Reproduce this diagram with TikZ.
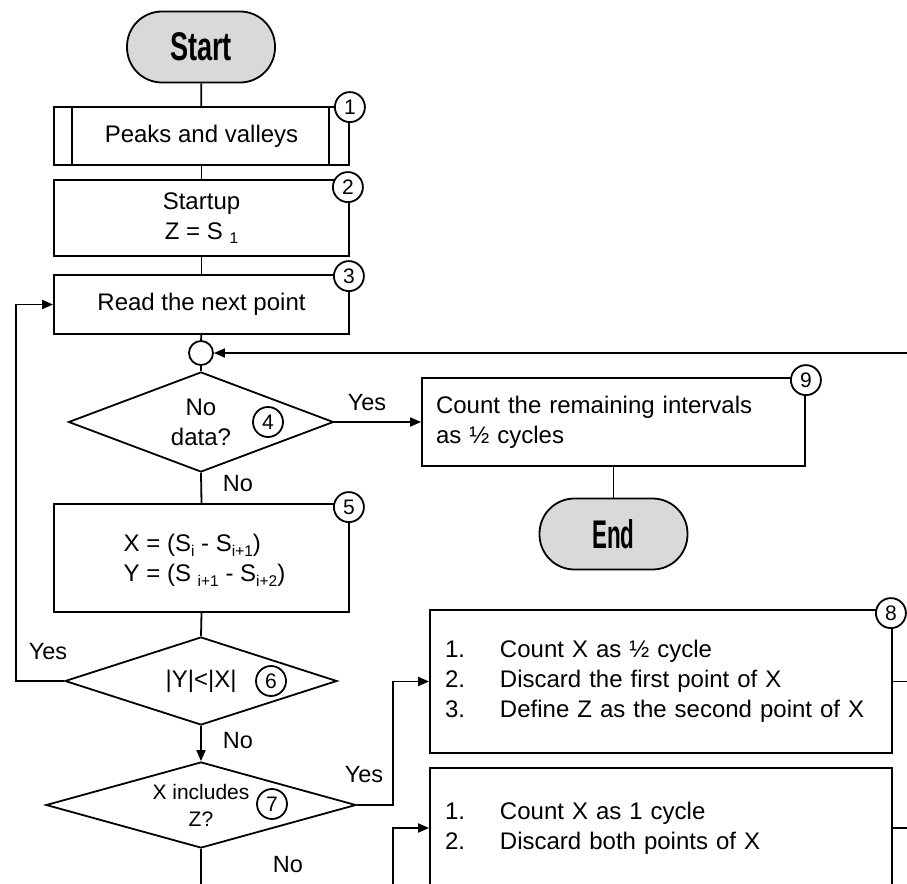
\documentclass[tikz,border=0pt]{standalone}
\usepackage{fontspec}
\setmainfont{Liberation Sans}
\usetikzlibrary{shapes.geometric,arrows.meta,calc}
\definecolor{termgray}{HTML}{D9D9D9}
\newcommand\lowsub[1]{\raisebox{-0.35ex}{\fontsize{15.5}{15.5}\selectfont #1}}
\newcommand\termtext[2]{\scalebox{#1}[1]{\fontsize{40}{40}\selectfont\bfseries #2}}

\begin{document}
\begin{tikzpicture}[x=1pt,y=-1pt,
  every node/.style={font=\fontsize{24}{30}\selectfont},
  line/.style={line width=1.8pt, draw=black},
  arr/.style={line, -{Triangle[length=11pt,width=9pt]}},
  box/.style={line, rectangle, inner sep=0pt, minimum width=295pt},
  term/.style={line, rectangle, rounded corners=35pt, fill=termgray,
    minimum width=148pt, minimum height=71pt, inner sep=0pt},
  dec/.style={line, diamond, inner sep=0pt, aspect=2.6, align=center},
  num/.style={line, circle, fill=white, inner sep=0pt, minimum size=30pt,
    font=\fontsize{21}{21}\selectfont},
  lbl/.style={inner sep=0pt, font=\fontsize{23.5}{23.5}\selectfont},
]
\useasboundingbox (0,0) rectangle (907,883);
\clip (0,0) rectangle (907,883);

% main column
\node[term] (start) at (201,47) {\termtext{0.68}{Start}};
\node[box, minimum height=58pt] (pv) at (201.5,136) {Peaks and valleys};
\draw[line] ([xshift=19pt]pv.north west) -- ([xshift=19pt]pv.south west);
\draw[line] ([xshift=-21pt]pv.north east) -- ([xshift=-21pt]pv.south east);
\node[box, minimum height=76pt, align=center] (su) at (201.5,218) {Startup\\Z = S \lowsub{1}};
\node[box, minimum height=59pt] (rd) at (201.5,304.5) {Read the next point};
\node[line, circle, minimum size=24pt, inner sep=0pt] (jn) at (201,353) {};
\node[dec, minimum width=265pt, minimum height=100pt] (d4) at (201,422) {No\\data?};
\node[box, minimum height=108pt, align=left, text depth=0pt] (b5) at (201.5,558)
  {\hspace*{6pt}X = (S\lowsub{i} - S\lowsub{i+1})\\\hspace*{6pt}Y = (S \lowsub{i+1} - S\lowsub{i+2})};
\node[dec, minimum width=272pt, minimum height=88pt] (d6) at (201,681) {|Y|<|X|};
\node[dec, minimum width=310pt, minimum height=86pt,
  font=\fontsize{21}{27}\selectfont] (d7) at (201,805) {X includes\\Z?};

% right column
\node[line, rectangle, minimum width=383pt, minimum height=88pt, text width=355pt,
  inner xsep=14pt, inner ysep=0pt, align=left] (b9) at (613.5,422)
  {Count the remaining intervals\\as ½ cycles};
\node[term] (end) at (613.5,534) {\termtext{0.56}{End}};
\node[line, rectangle, minimum width=462pt, minimum height=143pt, text width=432pt,
  inner xsep=15pt, inner ysep=0pt, align=left] (b8) at (661,681.5)
  {\begin{tabular}{@{}p{55pt}@{}l@{}}
   1. & Count X as ½ cycle\\
   2. & Discard the first point of X\\
   3. & Define Z as the second point of X
   \end{tabular}};
\node[line, rectangle, minimum width=462pt, minimum height=120pt, text width=432pt,
  inner xsep=15pt, inner ysep=0pt, align=left] (b10) at (661,828)
  {\begin{tabular}{@{}p{55pt}@{}l@{}}
   1. & Count X as 1 cycle\\
   2. & Discard both points of X
   \end{tabular}};

% step numbers
\node[num] (n1) at ([yshift=-1pt]pv.north east) {1};
\node[num] (n2) at ([xshift=-2pt,yshift=-8pt]su.north east) {2};
\node[num] (n3) at ([xshift=-1pt,yshift=-2pt]rd.north east) {3};
\node[num] (n4) at (268,422) {4};
\node[num] (n5) at ([xshift=-1pt,yshift=-4pt]b5.north east) {5};
\node[num] (n6) at (271,681) {6};
\node[num] (n7) at (272,804) {7};
\node[num] (n8) at ([xshift=-2pt,yshift=-4pt]b8.north east) {8};
\node[num] (n9) at ([yshift=-3pt]b9.north east) {9};

% helper coordinates for routed connectors
\coordinate (lx) at (16,0);
\coordinate (mx) at (393,0);
\coordinate (bt) at (201,900);
\coordinate (rt) at (910,353);
\coordinate (rx) at (910,0);

% connectors
\draw[line] (start) -- (pv);
\draw[line] (pv) -- (su);
\draw[line] (su) -- (rd);
\draw[line] (rd) -- (jn);
\draw[line] (jn) -- (d4.north);
\draw[arr] (rt) -- (jn.east);
\draw[arr] (d4.east) -- (b9.west);
\draw[line] (b9) -- (end);
\draw[line] (d4.south) -- (b5.north);
\draw[line] (b5.south) -- (d6.north);
\draw[arr] (d6.west) -- (d6.west -| lx) |- (rd.west);
\draw[arr] (d6.south) -- (d7.north);
\draw[arr] (d7.east) -- (d7.east -| mx) |- (b8.west);
\draw[line] (d7.south) -- (d7.south |- bt);
\draw[arr] (mx |- bt) |- (b10.west);
\draw[line] (b8.east) -- (b8.east -| rx);
\draw[line] (b10.east) -- (b10.east -| rx);

% branch labels
\node[lbl] at (367,403) {Yes};
\node[lbl] at (238,484) {No};
\node[lbl] at (48,652) {Yes};
\node[lbl] at (238,741) {No};
\node[lbl] at (364,775) {Yes};
\node[lbl] at (288,865) {No};
\end{tikzpicture}
\end{document}
